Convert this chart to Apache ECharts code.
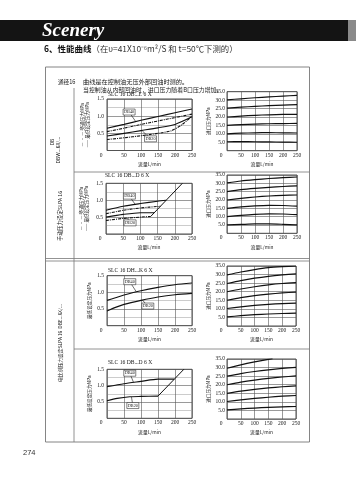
<!DOCTYPE html>
<html><head><meta charset="utf-8">
<script src="https://cdn.jsdelivr.net/npm/echarts@6/dist/echarts.min.js"></script>
<style>html,body{margin:0;padding:0;background:#fff}#c{width:356px;height:480px}</style>
</head><body><div id="c"></div>
<script>
// ---------- data ----------
const xTicks = [0, 50, 100, 150, 200, 250];
const leftYTicks = [0.5, 1.0, 1.5];
const rightYTicks = [5, 10, 15, 20, 25, 30, 35];
const chartTitles = ['SLC 16 DB...E 6 X', 'SLC 16 DB...D 6 X', 'SLC 16 DH...K 6 X', 'SLC 16 DB...D 6 X'];
const sizeLabels = ['DB40', 'DB20'];

// row 1 (DB...E 6 X) – min. setting / circulation pressure vs flow
const r1MinUpper  = [[0,0.65],[50,0.76],[100,0.88],[150,0.99],[200,1.10],[250,1.21]];
const r1CircUpper = [[0,0.55],[50,0.65],[100,0.76],[150,0.86],[200,0.96],[250,1.06]];
const r1MinLower  = [[0,0.42],[50,0.50],[100,0.58],[150,0.66],[200,0.76],[250,0.98]];
const r1CircLower = [[0,0.32],[50,0.37],[100,0.43],[150,0.50],[190,0.58],[220,0.75],[250,1.00]];
const r1Inlet = [
  [[0,5.3],[50,5.4],[100,5.3],[150,5.2],[200,5.1],[250,5.0]],
  [[0,10.0],[50,10.4],[100,10.6],[150,10.7],[200,10.6],[250,10.5]],
  [[0,15.0],[50,15.5],[100,15.8],[150,16.0],[200,16.1],[250,16.2]],
  [[0,20.0],[50,20.5],[100,21.0],[150,21.3],[200,21.5],[250,21.6]],
  [[0,25.2],[50,25.8],[100,26.3],[150,26.7],[200,27.0],[250,27.3]],
  [[0,30.2],[50,30.8],[100,31.4],[150,31.9],[200,32.4],[250,32.8]]
];
// row 2 (DB...D 6 X)
const r2MinUpper  = [[0,0.70],[50,0.82],[100,0.90],[150,0.97],[175,1.00]];
const r2CircUpper = [[0,0.60],[50,0.70],[100,0.77],[158,0.82]];
const r2MinLower  = [[0,0.50],[50,0.58],[100,0.63],[140,0.63]];
const r2CircLower = [[0,0.40],[50,0.46],[100,0.50],[130,0.52]];
const r2Limit     = [[130,0.52],[222,1.5]];
const r2Inlet = [
  [[0,5.0],[50,5.3],[100,5.6],[150,5.6],[200,5.4],[250,5.1]],
  [[0,10.0],[50,10.8],[100,11.4],[150,11.7],[200,11.6],[250,11.2]],
  [[0,15.0],[50,15.9],[100,16.5],[150,16.8],[200,16.7],[250,16.3]],
  [[0,20.0],[50,21.0],[100,21.8],[150,22.4],[200,22.8],[250,23.0]],
  [[0,25.0],[50,26.2],[100,27.0],[150,27.6],[200,28.1],[250,28.5]],
  [[0,30.3],[50,31.4],[100,32.2],[150,32.9],[200,33.4],[250,33.8]]
];
// row 3 (DH...K 6 X)
const r3MinUpper = [[0,0.76],[25,0.84],[50,0.92],[100,1.05],[150,1.15],[200,1.23],[250,1.28]];
const r3MinLower = [[0,0.44],[25,0.55],[50,0.64],[100,0.76],[150,0.86],[200,0.93],[250,0.97]];
const r3Inlet = [
  [[0,5.3],[50,6.0],[100,6.6],[150,7.0],[200,7.3],[250,7.5]],
  [[0,10.2],[50,11.2],[100,12.0],[150,12.6],[200,13.1],[250,13.4]],
  [[0,15.0],[50,16.5],[100,17.7],[150,18.6],[200,19.3],[250,19.8]],
  [[0,20.0],[50,21.6],[100,22.9],[150,24.0],[200,24.8],[250,25.3]],
  [[0,24.8],[50,26.5],[100,27.9],[150,29.0],[200,29.8],[250,30.4]],
  [[0,29.8],[50,31.5],[100,32.9],[150,34.0],[200,34.6],[250,35.0]]
];
// row 4 (DB...D 6 X, proportional)
const r4MinUpper = [[0,0.97],[50,1.06],[100,1.13],[150,1.20],[198,1.20]];
const r4MinLower = [[0,0.54],[30,0.61],[67,0.66],[100,0.67],[150,0.68]];
const r4Limit    = [[150,0.68],[226,1.5]];
const r4Inlet = [
  [[0,5.3],[50,5.9],[100,6.4],[150,6.8],[200,7.1],[250,7.3]],
  [[0,10.2],[50,11.2],[100,12.0],[150,12.7],[200,13.3],[250,13.7]],
  [[0,15.0],[50,16.3],[100,17.3],[150,18.1],[200,18.8],[250,19.3]],
  [[0,20.0],[50,21.5],[100,22.7],[150,23.7],[200,24.5],[250,25.1]],
  [[0,25.0],[50,26.5],[100,27.7],[150,28.7],[200,29.5],[250,30.1]],
  [[0,29.6],[50,31.6],[100,33.3],[150,34.8],[165,35.2]]
];
// label anchor / leader positions (data space)
const r1Callouts = [[[65,1.12],[84,0.85]], [[128,0.34],[104,0.57]]];
const r2Callouts = [[[68,1.12],[86,0.86]], [[70,0.33],[62,0.47]]];
const r3Callouts = [[[67,1.32],[86,1.02]], [[120,0.59],[104,0.77]]];
const r4Callouts = [[[67,1.38],[78,1.10]], [[76,0.39],[72,0.65]]];

// ---------- layout / style ----------
const INK = '#1a1a1a';
const SERIF = "'Liberation Serif','Noto Sans CJK SC',serif";
const CJK = "'Noto Sans CJK SC','Liberation Serif',sans-serif";
const grids = [
  {left:107, top:99,    width:85, height:51.5},
  {left:227, top:91.7,  width:70, height:59},
  {left:106, top:183.3, width:86, height:50.7},
  {left:227, top:175,   width:70, height:58.3},
  {left:107, top:275.7, width:85, height:50},
  {left:227, top:266,   width:69, height:60},
  {left:107, top:369.3, width:85, height:49},
  {left:227, top:359,   width:69, height:60}
].map(g => Object.assign({show:true, borderColor:'#222', borderWidth:0.8, containLabel:false}, g));

const xAxes = grids.map((g, i) => ({
  type:'value', gridIndex:i, min:0, max:xTicks[xTicks.length-1], interval:xTicks[1]-xTicks[0],
  axisLine:{show:false}, axisTick:{show:false},
  splitLine:{show:true, lineStyle:{color:'#555', width:0.6}},
  axisLabel:{fontSize:5.5, color:INK, fontFamily:SERIF, margin:2,
    formatter: v => v === 0 ? '{z|0}' : String(v),
    rich:{z:{fontSize:5.5, fontFamily:SERIF, color:INK, padding:[0,12,0,0]}}},
  name:'流量L/min', nameLocation:'middle', nameGap:11,
  nameTextStyle:{fontSize:4.8, color:INK, fontFamily:CJK}
}));

const leftNames = ['— · — 旁通压力MPa\n—— 最低设定压力MPa', '— · — 旁通压力MPa\n—— 最低设定压力MPa', '最低设定压力MPa', '最低设定压力MPa'];
const yAxes = grids.map((g, i) => {
  const left = i % 2 === 0;
  const ticks = left ? leftYTicks : rightYTicks;
  const base = {
    type:'value', gridIndex:i, min:0,
    axisLine:{show:false}, axisTick:{show:false},
    nameLocation:'middle', nameRotate:90,
    nameTextStyle:{fontSize:4.6, color:INK, fontFamily:CJK, lineHeight:5.5}
  };
  if (left) {
    return Object.assign(base, {
      max:ticks[ticks.length-1], interval:0.25,
      splitLine:{show:true, lineStyle:{color:['#555','#aaa'], width:0.6}},
      axisLabel:{fontSize:5.5, color:INK, fontFamily:SERIF, margin:3,
        formatter: v => (v !== 0 && ticks.some(t => Math.abs(t - v) < 1e-6)) ? v.toFixed(1) : ''},
      name:leftNames[i/2], nameGap: i < 4 ? 17 : 15
    });
  }
  return Object.assign(base, {
    max:ticks[ticks.length-1], interval:ticks[1]-ticks[0],
    splitLine:{show:true, lineStyle:{color:'#555', width:0.6}},
    axisLabel:{fontSize:5.5, color:INK, fontFamily:SERIF, margin:2,
      formatter: v => v === 0 ? '' : v.toFixed(1)},
    name:'进口压力MPa', nameGap:14
  });
});

const series = [];
function line(gi, data, dashed, width) {
  series.push({type:'line', xAxisIndex:gi, yAxisIndex:gi, data:data, showSymbol:false, symbol:'none',
    smooth:0.25, clip:true, silent:true, animation:false,
    lineStyle:{color:'#111', width:width || 1.1, type: dashed ? [3,1,1,1] : 'solid'}});
}
function callouts(gi, pairs) {
  series.push({type:'line', xAxisIndex:gi, yAxisIndex:gi, data:[], silent:true, animation:false,
    markLine:{silent:true, symbol:['none','none'], animation:false, label:{show:false},
      lineStyle:{color:'#111', width:0.6, type:'solid'},
      data: pairs.map(p => [{coord:p[0]}, {coord:p[1]}])},
    markPoint:{silent:true, animation:false, symbol:'rect', symbolSize:[12,6],
      itemStyle:{color:'#fff', borderColor:'#111', borderWidth:0.5},
      label:{show:true, position:'inside', fontSize:4.3, color:INK, fontFamily:SERIF, formatter: p => p.name},
      data: pairs.map((p, k) => ({coord:p[0], name:sizeLabels[k]}))}
  });
}
// row 1
line(0, r1MinUpper); line(0, r1CircUpper, true); line(0, r1MinLower); line(0, r1CircLower, true);
callouts(0, r1Callouts);
r1Inlet.forEach(d => line(1, d, false, 1.2));
// row 2
line(2, r2MinUpper); line(2, r2CircUpper, true); line(2, r2MinLower); line(2, r2CircLower, true);
series.push({type:'line', xAxisIndex:2, yAxisIndex:2, data:r2Limit, symbol:'none', clip:true, animation:false, lineStyle:{color:'#111', width:1}});
callouts(2, r2Callouts);
r2Inlet.forEach(d => line(3, d, false, 1.2));
// row 3
line(4, r3MinUpper); line(4, r3MinLower);
callouts(4, r3Callouts);
r3Inlet.forEach(d => line(5, d, false, 1.2));
// row 4
line(6, r4MinUpper); line(6, r4MinLower);
series.push({type:'line', xAxisIndex:6, yAxisIndex:6, data:r4Limit, symbol:'none', clip:true, animation:false, lineStyle:{color:'#111', width:1}});
callouts(6, r4Callouts);
r4Inlet.forEach(d => line(7, d, false, 1.2));

const titleTops = [92, 173, 268, 360];
const titleLefts = [108, 105, 108, 108];
const titles = chartTitles.map((t, i) => ({text:t, left:titleLefts[i], top:titleTops[i], padding:0,
  textStyle:{fontSize:5.6, fontWeight:'normal', color:INK, fontFamily:SERIF}}));

function txt(x, y, text, size, opts) {
  return Object.assign({type:'text', x:x, y:y, silent:true,
    style:Object.assign({text:text, fill:INK, fontSize:size, fontFamily:CJK, align:'left', verticalAlign:'middle'}, (opts && opts.style) || {})},
    opts && opts.rotation !== undefined ? {rotation:opts.rotation} : {});
}
function ln(x1, y1, x2, y2, w, c) {
  return {type:'line', silent:true, shape:{x1:x1, y1:y1, x2:x2, y2:y2}, style:{stroke:c || '#777', lineWidth:w || 0.8}};
}
const R = Math.PI / 2;
const graphics = [
  {type:'rect', silent:true, shape:{x:0, y:20, width:348, height:21}, style:{fill:'#141414'}},
  {type:'rect', silent:true, shape:{x:348, y:20, width:8, height:21}, style:{fill:'#8a8a8a'}},
  txt(42, 31, 'Scenery', 19, {style:{fill:'#fff', fontFamily:"'Liberation Serif',serif", fontWeight:'bold', fontStyle:'italic'}}),
  {type:'text', x:44, y:49, silent:true, style:{text:'{b|6、性能曲线}{n|（在υ=41X10⁻⁶m²/S 和 t=50℃下测的）}', verticalAlign:'middle',
    rich:{b:{fontSize:8.5, fontWeight:'bold', fontFamily:CJK, fill:'#111'}, n:{fontSize:8.4, fontFamily:CJK, fill:'#333'}}}},
  {type:'rect', silent:true, shape:{x:45.5, y:67, width:264, height:375}, style:{fill:'none', stroke:'#777', lineWidth:0.9}},
  ln(74, 88, 74, 442),
  ln(74, 172, 309.5, 172),
  ln(45.5, 258.5, 309.5, 258.5),
  ln(45.5, 261, 309.5, 261),
  ln(74, 349, 309.5, 349),
  txt(58, 81.7, '通径16', 5.6),
  txt(83, 81.7, '曲线是在控制油无压外部回油时测的。', 6.2),
  txt(83, 89.3, '当控制油从内部回油时，进口压力随着B口压力增加。', 5.9),
  txt(52.5, 142, 'DB', 5, {rotation:R, style:{align:'center'}}),
  txt(58.5, 150, 'DBW...6X/...', 5, {rotation:R, style:{align:'center'}}),
  txt(60, 216, '手动压力设定SLPA 16', 5.2, {rotation:R, style:{align:'center'}}),
  txt(60, 343, '电比例压力设定SLPA 16  DBE...6X/...', 4.8, {rotation:R, style:{align:'center'}}),
  txt(23, 453, '274', 7.5, {style:{fontFamily:"'Liberation Sans',sans-serif", fill:'#333'}})
];

const chart = echarts.init(document.getElementById('c'), null, {renderer:'canvas'});
chart.setOption({
  animation:false, backgroundColor:'#fff',
  title:titles, grid:grids, xAxis:xAxes, yAxis:yAxes, series:series, graphic:graphics
});
</script></body></html>
